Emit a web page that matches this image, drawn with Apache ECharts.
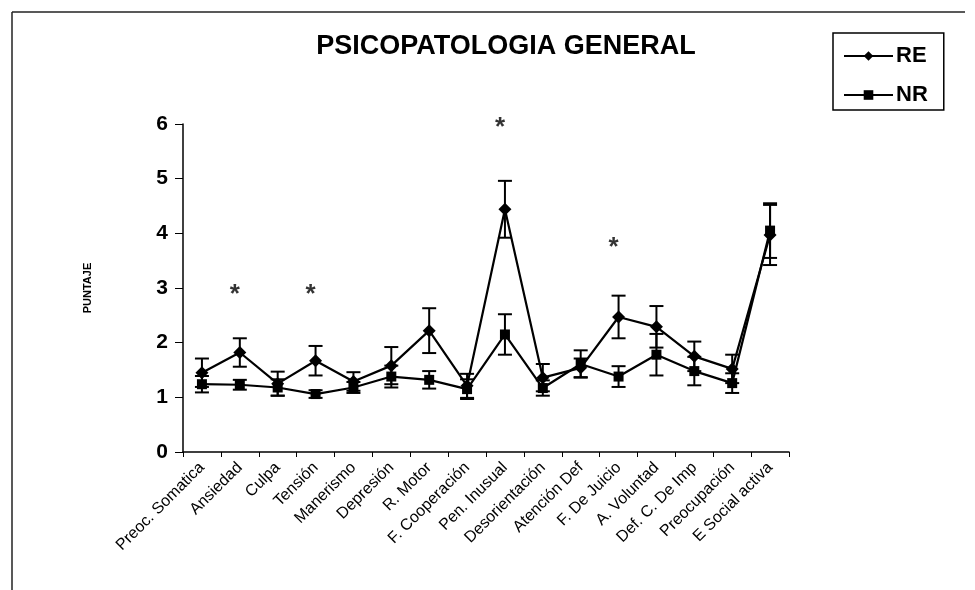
<!DOCTYPE html>
<html>
<head>
<meta charset="utf-8">
<script src="https://cdn.jsdelivr.net/npm/echarts@6/dist/echarts.min.js"></script>
<style>
  html, body { margin: 0; padding: 0; background: #fff; }
  #chart { width: 975px; height: 590px; }
</style>
</head>
<body>
<div id="chart"></div>
<script>
// categories on the x axis
const categories = [
  "Preoc. Somatica", "Ansiedad", "Culpa", "Tensión", "Manerismo",
  "Depresión", "R. Motor", "F. Cooperación", "Pen. Inusual",
  "Desorientación", "Atención Def", "F. De Juicio", "A. Voluntad",
  "Def. C. De Imp", "Preocupación", "E Social activa"
];

// RE group: means and error (+/-)
const reMean = [1.45, 1.82, 1.25, 1.67, 1.29, 1.58, 2.22, 1.21, 4.44, 1.36, 1.54, 2.47, 2.29, 1.75, 1.52, 3.97];
const reErr  = [0.26, 0.26, 0.22, 0.27, 0.17, 0.34, 0.41, 0.22, 0.52, 0.25, 0.17, 0.39, 0.38, 0.27, 0.26, 0.55];

// NR group: means and error (+/-)
const nrMean = [1.24, 1.23, 1.18, 1.06, 1.18, 1.38, 1.32, 1.15, 2.15, 1.17, 1.61, 1.38, 1.78, 1.48, 1.26, 4.05];
const nrErr  = [0.15, 0.09, 0.15, 0.07, 0.10, 0.20, 0.16, 0.18, 0.37, 0.14, 0.25, 0.19, 0.38, 0.26, 0.18, 0.50];

// significance marks (*)
const sigCats = ["Ansiedad", "Tensión", "Pen. Inusual", "F. De Juicio"];
const sigVals = [2.97, 2.97, 6.02, 3.83];

const yTicks = [0, 1, 2, 3, 4, 5, 6];

const errData = (mean, err) => mean.map((m, i) => [i, m - err[i], m + err[i]]);

function renderErr(params, api) {
  const x = api.coord([api.value(0), api.value(1)])[0];
  const lo = api.coord([api.value(0), api.value(1)])[1];
  const hi = api.coord([api.value(0), api.value(2)])[1];
  const w = 7;
  const st = { stroke: "#000", lineWidth: 2 };
  return {
    type: "group",
    children: [
      { type: "line", shape: { x1: x, y1: lo, x2: x, y2: hi }, style: st },
      { type: "line", shape: { x1: x - w, y1: hi, x2: x + w, y2: hi }, style: st },
      { type: "line", shape: { x1: x - w, y1: lo, x2: x + w, y2: lo }, style: st },
    ],
  };
}

const chart = echarts.init(document.getElementById("chart"), null, { renderer: "canvas" });

chart.setOption({
  backgroundColor: "#fff",
  animation: false,
  textStyle: { fontFamily: "Liberation Sans, Arial, sans-serif", color: "#000" },
  title: {
    text: "PSICOPATOLOGIA GENERAL",
    left: 501,
    top: 28,
    textAlign: "center",
    textStyle: { fontSize: 27, fontWeight: "bold", color: "#000" },
  },
  legend: {
    data: ["RE", "NR"],
    orient: "vertical",
    left: 833,
    top: 33,
    width: 113,
    padding: [12, 16, 4, 10],
    itemGap: 17,
    itemWidth: 49,
    itemHeight: 12,
    borderColor: "#000",
    borderWidth: 1.5,
    textStyle: { fontSize: 22, fontWeight: "bold", color: "#000", padding: [0, 0, 0, -2] },
  },
  graphic: [
    { type: "line", shape: { x1: 12, y1: 12, x2: 965, y2: 12 }, style: { stroke: "#222", lineWidth: 1.5 } },
    { type: "line", shape: { x1: 12, y1: 12, x2: 12, y2: 590 }, style: { stroke: "#222", lineWidth: 1.5 } },
  ],
  grid: { left: 183, right: 186, top: 124, bottom: 138 },
  xAxis: {
    type: "category",
    data: categories,
    boundaryGap: true,
    axisLine: { lineStyle: { color: "#000", width: 1.5 } },
    axisTick: { show: true, length: 5, lineStyle: { color: "#000" } },
    axisLabel: {
      rotate: 45,
      interval: 0,
      margin: 13,
      fontSize: 16,
      color: "#000",
    },
  },
  yAxis: {
    type: "value",
    min: yTicks[0],
    max: yTicks[yTicks.length - 1],
    interval: 1,
    name: "PUNTAJE",
    nameLocation: "middle",
    nameGap: 90,
    nameRotate: 90,
    nameTextStyle: { fontSize: 11, fontWeight: "bold", color: "#000" },
    axisLine: { show: true, lineStyle: { color: "#000", width: 1.5 } },
    axisTick: { show: true, length: 8, lineStyle: { color: "#000" } },
    splitLine: { show: false },
    axisLabel: { fontSize: 21, fontWeight: "bold", color: "#000", margin: 15 },
  },
  series: [
    {
      name: "RE err",
      type: "custom",
      renderItem: renderErr,
      data: errData(reMean, reErr),
      z: 1,
    },
    {
      name: "NR err",
      type: "custom",
      renderItem: renderErr,
      data: errData(nrMean, nrErr),
      z: 1,
    },
    {
      name: "RE",
      type: "line",
      data: reMean,
      symbol: "diamond",
      symbolSize: 13,
      lineStyle: { color: "#000", width: 2.2 },
      itemStyle: { color: "#000" },
      z: 3,
    },
    {
      name: "NR",
      type: "line",
      data: nrMean,
      symbol: "rect",
      symbolSize: 10,
      lineStyle: { color: "#000", width: 2.2 },
      itemStyle: { color: "#000" },
      z: 3,
    },
    {
      name: "sig",
      type: "scatter",
      data: sigCats.map((c, i) => [c, sigVals[i]]),
      symbolSize: 1,
      itemStyle: { color: "transparent" },
      clip: false,
      label: {
        show: true,
        position: "inside",
        formatter: "*",
        fontSize: 26,
        fontWeight: "bold",
        color: "#000",
        offset: [-5, 5],
      },
      z: 4,
    },
  ],
});
</script>
</body>
</html>
